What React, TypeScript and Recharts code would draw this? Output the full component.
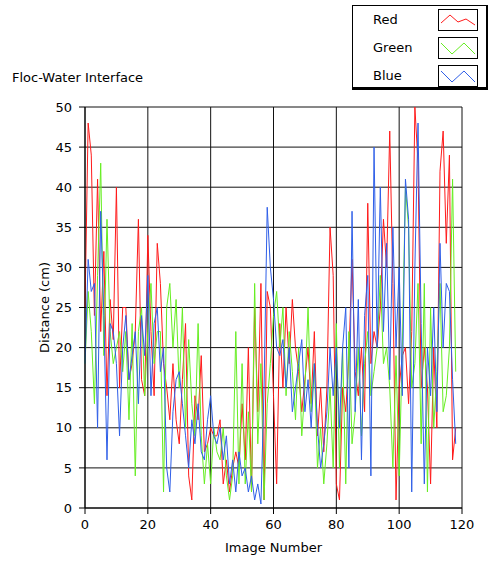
import { LineChart, Line, XAxis, YAxis, CartesianGrid } from 'recharts'

const imageNumbers = Array.from({ length: 119 }, (_, i) => i)

const red = [
  25, 48, 44, 24, 41, 22, 32, 14, 26, 21, 40, 15, 25, 25, 16, 18, 22, 36, 16, 14,
  34, 22, 14, 33, 28, 18, 15, 11, 18, 11, 8, 16, 23, 4, 1, 14, 11, 19, 7, 8,
  10, 9, 9, 11, 3, 6, 2, 5, 7, 5, 13, 6, 20, 2, 25, 12, 28, 1, 27, 25,
  14, 3, 23, 15, 25, 18, 26, 20, 17, 12, 16, 20, 13, 22, 9, 15, 7, 15, 35, 29,
  3, 1, 15, 12, 19, 31, 17, 14, 20, 12, 38, 18, 22, 20, 25, 36, 30, 47, 28, 1,
  15, 19, 20, 13, 22, 50, 43, 15, 20, 15, 3, 20, 10, 42, 47, 33, 44, 6, 10,
]

const green = [
  18, 27, 22, 13, 29, 43, 19, 36, 22, 18, 20, 22, 17, 22, 11, 23, 4, 22, 25, 14,
  22, 28, 18, 22, 22, 2, 25, 28, 20, 26, 15, 25, 10, 21, 13, 9, 23, 9, 3, 8,
  3, 10, 7, 6, 10, 4, 1, 4, 22, 3, 18, 3, 12, 2, 28, 8, 18, 1, 13, 18,
  24, 27, 20, 25, 14, 22, 17, 11, 20, 9, 15, 25, 12, 18, 5, 10, 3, 8, 15, 5,
  23, 5, 20, 3, 22, 8, 12, 20, 9, 18, 22, 14, 17, 20, 29, 18, 20, 15, 5, 19,
  4, 20, 40, 35, 15, 18, 28, 8, 28, 2, 25, 10, 17, 28, 12, 14, 20, 41, 17,
]

const blue = [
  18, 31, 27, 28, 10, 37, 24, 6, 23, 22, 18, 9, 20, 24, 16, 19, 22, 13, 24, 19,
  29, 14, 23, 25, 17, 20, 5, 2, 12, 16, 17, 13, 9, 5, 11, 8, 13, 7, 6, 11,
  14, 9, 8, 10, 6, 9, 3, 6, 2, 7, 4, 5, 2, 4, 1, 3, 0.5, 15, 37.5, 30,
  26, 20, 19, 21, 15, 20, 12, 15, 18, 21, 12, 16, 10, 18, 10, 5, 8, 12, 20, 14,
  20, 10, 20, 25, 5, 37, 12, 26, 6, 24, 29, 4, 45, 20, 40, 22, 33, 16, 35, 20,
  30, 14, 41, 36, 2, 30, 48, 23, 3, 20, 14, 25, 12, 33, 20, 28, 27, 16, 8,
]

const xTicks = [0, 20, 40, 60, 80, 100, 120]
const yTicks = [0, 5, 10, 15, 20, 25, 30, 35, 40, 45, 50]

const series = [
  { key: 'red', name: 'Red', color: '#ff1a1a' },
  { key: 'green', name: 'Green', color: '#66ee22' },
  { key: 'blue', name: 'Blue', color: '#2f5fe8' },
]

const data = imageNumbers.map((n, i) => ({ n, red: red[i], green: green[i], blue: blue[i] }))

const font = '"DejaVu Sans", sans-serif'

function LegendBox() {
  return (
    <div
      style={{
        position: 'absolute', left: 352, top: 5, width: 133, height: 81,
        borderLeft: '1px solid #000', borderTop: '1px solid #000',
        borderRight: '3px solid #000', borderBottom: '3px solid #000',
        background: '#fff', fontFamily: font, fontSize: 13,
      }}
    >
      {series.map((s, i) => (
        <div key={s.key} style={{ position: 'absolute', top: 2 + i * 28, left: 0, width: 133, height: 24 }}>
          <span style={{ position: 'absolute', left: 20, top: 4 }}>{s.name}</span>
          <svg width={40} height={22} style={{ position: 'absolute', left: 85, top: 1 }}>
            <rect x={0.5} y={0.5} width={39} height={21} fill="#fff" stroke="#000" />
            <polyline
              points={i === 0 ? '3,14 12,6 20,13 28,10 37,16' : '3,6 14,17 26,6 37,17'}
              fill="none" stroke={s.color} strokeWidth={1}
            />
          </svg>
        </div>
      ))}
    </div>
  )
}

export default function App() {
  return (
    <div style={{ position: 'absolute', left: 0, top: 0, width: 488, height: 562, background: '#fff', fontFamily: font }}>
      <div style={{ position: 'absolute', left: 12, top: 70, fontSize: 13 }}>Floc-Water Interface</div>
      <LineChart width={488} height={562} data={data} margin={{ top: 107, right: 26, bottom: 6, left: 0 }}>
        <CartesianGrid stroke="#111" strokeWidth={1} horizontalValues={yTicks} verticalValues={xTicks} />
        <XAxis
          dataKey="n" type="number" domain={[0, 120]} ticks={xTicks} height={48}
          tickSize={6} tickMargin={6} tickLine={{ stroke: '#000' }} axisLine={{ stroke: '#000' }}
          tick={{ fill: '#000', fontSize: 13, fontFamily: font }}
          label={{ value: 'Image Number', position: 'insideBottom', offset: 4, fill: '#000', fontSize: 13, fontFamily: font }}
        />
        <YAxis
          type="number" domain={[0, 50]} ticks={yTicks} width={85}
          tickSize={6} tickMargin={7} tickLine={{ stroke: '#000' }} axisLine={{ stroke: '#000' }}
          tick={{ fill: '#000', fontSize: 13, fontFamily: font }}
          label={{ value: 'Distance (cm)', angle: -90, position: 'center', dx: 2, fill: '#000', fontSize: 13, fontFamily: font }}
        />
        {series.map((s) => (
          <Line key={s.key} dataKey={s.key} stroke={s.color} strokeWidth={1} dot={false} isAnimationActive={false} type="linear" />
        ))}
      </LineChart>
      <LegendBox />
    </div>
  )
}
